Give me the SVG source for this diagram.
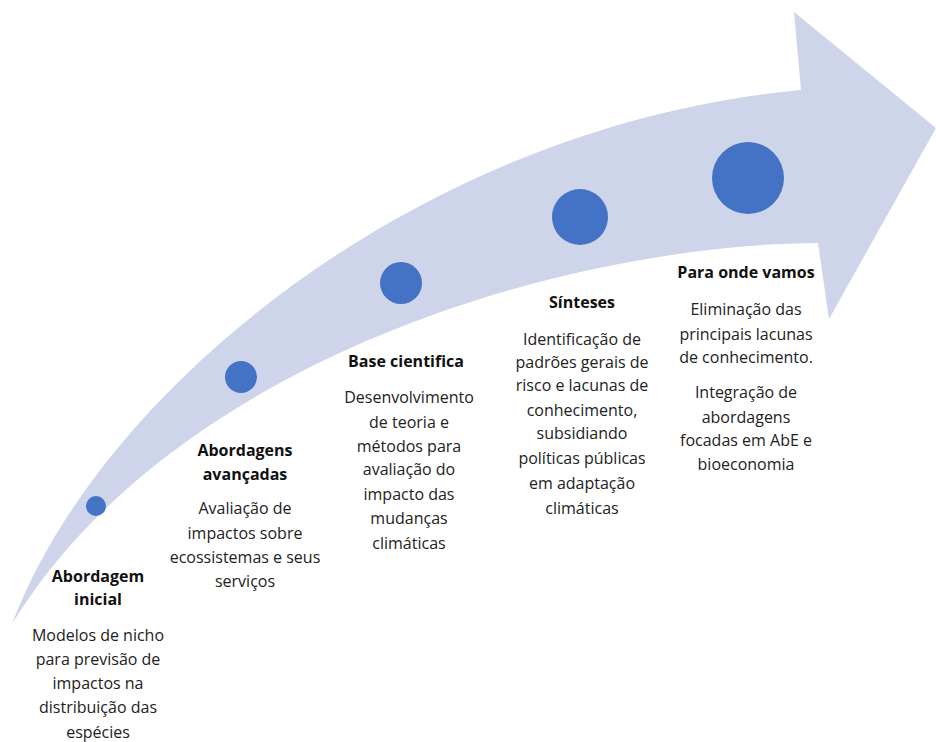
<svg xmlns="http://www.w3.org/2000/svg" width="936" height="742" viewBox="0 0 936 742">
<style>
.t{font-family:"Open Sans","Noto Sans","Liberation Sans",sans-serif;font-size:16px;fill:#222;text-anchor:middle}
.h{font-weight:bold;fill:#111}
.dot{fill:#4472C4}
</style>
<rect width="936" height="742" fill="#fff"/>
<g id="arrow">
<path d="M 12,624 C 100,390 420,125 801,90 L 794,12 L 936,128 L 829,319 L 818,243 C 560,245 172,362 12,624 Z" fill="#CED5EA"/>
</g>
<g id="connectors"></g>
<g id="node1">
<circle class="dot" cx="96" cy="506" r="10"/>
<text class="t h" x="98" y="582">Abordagem</text>
<text class="t h" x="98" y="605">inicial</text>
<text class="t" x="98" y="641">Modelos de nicho</text>
<text class="t" x="98" y="665">para previsão de</text>
<text class="t" x="98" y="689">impactos na</text>
<text class="t" x="98" y="713">distribuição das</text>
<text class="t" x="98" y="738">espécies</text>
</g>
<g id="node2">
<circle class="dot" cx="241" cy="377" r="16"/>
<text class="t h" x="245" y="456">Abordagens</text>
<text class="t h" x="245" y="480">avançadas</text>
<text class="t" x="245" y="514">Avaliação de</text>
<text class="t" x="245" y="539">impactos sobre</text>
<text class="t" x="245" y="563">ecossistemas e seus</text>
<text class="t" x="245" y="587">serviços</text>
</g>
<g id="node3">
<circle class="dot" cx="401" cy="283" r="21"/>
<text class="t h" x="406" y="367">Base cientifica</text>
<text class="t" x="409" y="403">Desenvolvimento</text>
<text class="t" x="409" y="428">de teoria e</text>
<text class="t" x="409" y="452">métodos para</text>
<text class="t" x="409" y="475">avaliação do</text>
<text class="t" x="409" y="500">impacto das</text>
<text class="t" x="409" y="524">mudanças</text>
<text class="t" x="409" y="549">climáticas</text>
</g>
<g id="node4">
<circle class="dot" cx="580" cy="217" r="28"/>
<text class="t h" x="582" y="308">Sínteses</text>
<text class="t" x="582" y="345">Identificação de</text>
<text class="t" x="582" y="368">padrões gerais de</text>
<text class="t" x="582" y="391">risco e lacunas de</text>
<text class="t" x="582" y="416">conhecimento,</text>
<text class="t" x="582" y="439">subsidiando</text>
<text class="t" x="582" y="464">políticas públicas</text>
<text class="t" x="582" y="489">em adaptação</text>
<text class="t" x="582" y="514">climáticas</text>
</g>
<g id="node5">
<circle class="dot" cx="748" cy="178" r="36"/>
<text class="t h" x="746" y="278">Para onde vamos</text>
<text class="t" x="746" y="315">Eliminação das</text>
<text class="t" x="746" y="340">principais lacunas</text>
<text class="t" x="746" y="363">de conhecimento.</text>
<text class="t" x="746" y="398">Integração de</text>
<text class="t" x="746" y="423">abordagens</text>
<text class="t" x="746" y="446">focadas em AbE e</text>
<text class="t" x="746" y="470">bioeconomia</text>
</g>
</svg>
